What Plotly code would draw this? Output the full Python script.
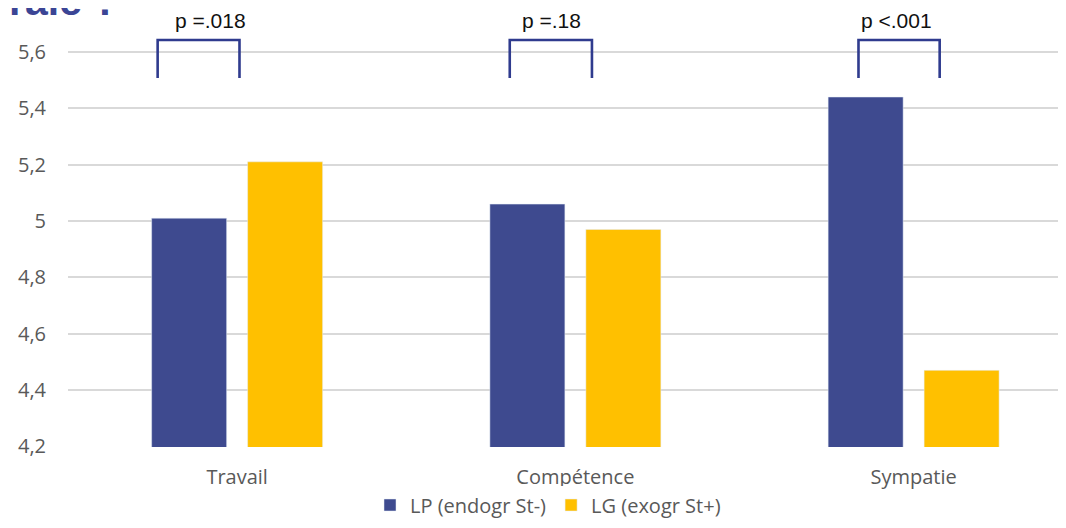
import plotly.graph_objects as go

categories = ["Travail", "Compétence", "Sympatie"]
series_names = ["LP (endogr St-)", "LG (exogr St+)"]
lp_values = [5.01, 5.06, 5.44]
lg_values = [5.21, 4.97, 4.47]
p_labels = ["p =.018", "p =.18", "p <.001"]
y_ticks = [4.2, 4.4, 4.6, 4.8, 5.0, 5.2, 5.4, 5.6]
y_tick_text = ["4,2", "4,4", "4,6", "4,8", "5", "5,2", "5,4", "5,6"]

# bracket extents (category offsets) as drawn on the slide
bracket_left = [-0.235, -0.194, -0.163]
bracket_right = [0.007, 0.049, 0.077]
label_offset = [-0.078, -0.072, -0.05]

BLUE = "#3E4A8F"
GOLD = "#FFC000"
NAVY = "#2F3B8E"
GRAY = "#595959"

fig = go.Figure()
fig.add_trace(go.Bar(x=categories, y=lp_values, name=series_names[0], marker_color=BLUE))
fig.add_trace(go.Bar(x=categories, y=lg_values, name=series_names[1], marker_color=GOLD))

# page has an 8px body margin; figure sized to fit inside the window
OFF = 8
W, H = 1050, 512
ML, MR, MT, MB = 60, 0, 2, 73
plot_w = W - ML - MR
plot_h = H - MT - MB
plot_left_pg = OFF + ML
plot_bot_pg = OFF + H - MB
cat_px = 338.25
x_hi = plot_w / cat_px - 0.5


def px_x(p):
    return (p - plot_left_pg) / plot_w


def px_y(p):
    return (plot_bot_pg - p) / plot_h


# data per pixel: 4.2 at 447 px, 5.6 at 52 px (page coords)
ppu = (447 - 52) / 1.4
br_top = 5.6 + (52 - 40) / ppu
br_bot = 5.6 - (78 - 52) / ppu
lab_y = 5.6 + (52 - 21) / ppu

for i in range(3):
    x0 = i + bracket_left[i]
    x1 = i + bracket_right[i]
    fig.add_shape(type="path",
                  path=f"M {x0},{br_bot} L {x0},{br_top} L {x1},{br_top} L {x1},{br_bot}",
                  xref="x", yref="y", line=dict(color=NAVY, width=2.6))
    fig.add_annotation(x=i + label_offset[i], y=lab_y, xref="x", yref="y",
                       text=p_labels[i], showarrow=False,
                       font=dict(family="Liberation Sans, Arial", size=21, color="#111111"),
                       xanchor="center", yanchor="middle")

# cropped slide title fragment
fig.add_annotation(x=px_x(7), y=px_y(26), xref="paper", yref="paper",
                   text="<b>rale ?</b>", showarrow=False, xanchor="left", yanchor="bottom",
                   font=dict(family="Liberation Sans, Arial", size=41, color="#3B4595"))

y_lo = 4.198
y_hi = 5.6 + (52 - (OFF + MT)) / ppu

fig.update_layout(
    width=W, height=H,
    margin=dict(l=ML, r=MR, t=MT, b=MB, autoexpand=False),
    paper_bgcolor="white", plot_bgcolor="white",
    barmode="group", bargap=0.4324, bargroupgap=0.21875,
    showlegend=True,
    legend=dict(orientation="h", x=px_x(548), y=px_y(505),
                xanchor="center", yanchor="middle",
                font=dict(family="Open Sans", size=20, color=GRAY)),
    xaxis=dict(range=[-0.5, x_hi], showgrid=False, showline=False, zeroline=False,
               ticks="", ticklabelstandoff=16, automargin=False,
               tickfont=dict(family="Open Sans", size=20, color=GRAY)),
    yaxis=dict(range=[y_lo, y_hi], tickvals=y_ticks, ticktext=y_tick_text,
               showgrid=True, gridcolor="#D9D9D9", gridwidth=1.5, zeroline=False,
               showline=False, ticks="", ticklabelstandoff=21, automargin=False,
               tickfont=dict(family="Open Sans", size=20, color=GRAY)),
)

fig.write_html("out.html")
